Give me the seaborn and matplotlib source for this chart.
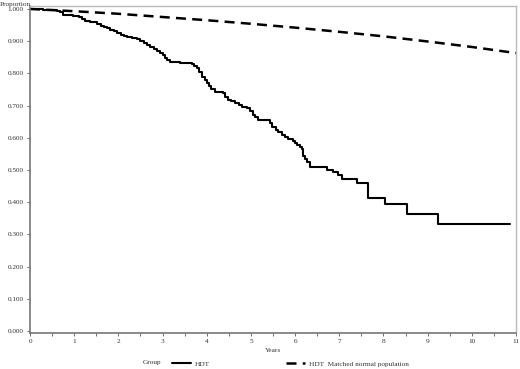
import numpy as np
import pandas as pd
import matplotlib
matplotlib.use('Agg')
import matplotlib.pyplot as plt
import seaborn as sns

# Kaplan-Meier style step curve for the HDT group (years, proportion)
hdt_years = [0.00, 0.30, 0.52, 0.60, 0.68, 0.75, 0.97, 1.10, 1.18, 1.24, 1.35, 1.52,
             1.60, 1.68, 1.74, 1.82, 1.90, 1.97, 2.05, 2.12, 2.19, 2.30, 2.42, 2.50,
             2.58, 2.65, 2.72, 2.80, 2.87, 2.94, 3.00, 3.05, 3.10, 3.17, 3.40, 3.67,
             3.72, 3.78, 3.83, 3.89, 3.95, 4.00, 4.05, 4.10, 4.19, 4.37, 4.42, 4.48,
             4.56, 4.64, 4.72, 4.80, 4.91, 4.98, 5.05, 5.10, 5.16, 5.43, 5.48, 5.56,
             5.62, 5.70, 5.77, 5.84, 5.95, 6.00, 6.04, 6.10, 6.15, 6.18, 6.22, 6.27,
             6.33, 6.72, 6.85, 6.97, 7.06, 7.40, 7.65, 8.03, 8.53, 9.23, 10.86]
hdt_surv = [1.000, 0.998, 0.996, 0.994, 0.990, 0.981, 0.978, 0.975, 0.970, 0.962, 0.958, 0.953,
            0.948, 0.944, 0.940, 0.935, 0.930, 0.925, 0.920, 0.916, 0.913, 0.910, 0.906, 0.900,
            0.894, 0.888, 0.882, 0.876, 0.870, 0.863, 0.856, 0.849, 0.842, 0.834, 0.832, 0.829,
            0.823, 0.817, 0.805, 0.790, 0.780, 0.770, 0.760, 0.752, 0.742, 0.738, 0.728, 0.718,
            0.713, 0.708, 0.702, 0.696, 0.692, 0.682, 0.671, 0.663, 0.655, 0.645, 0.632, 0.624,
            0.618, 0.609, 0.603, 0.596, 0.590, 0.584, 0.578, 0.572, 0.566, 0.545, 0.535, 0.525,
            0.509, 0.500, 0.494, 0.484, 0.472, 0.460, 0.413, 0.394, 0.363, 0.332, 0.332]

# Expected survival of the matched normal population
norm_years = [0, 1, 2, 3, 4, 5, 6, 7, 8, 9, 10, 11]
norm_surv = [1.000, 0.993, 0.985, 0.975, 0.965, 0.954, 0.942, 0.929, 0.915, 0.899, 0.882, 0.863]

hdt = pd.DataFrame({'Years': hdt_years, 'Proportion': hdt_surv})
norm = pd.DataFrame({'Years': norm_years, 'Proportion': norm_surv})

sns.set_style('white')
plt.rcParams['font.family'] = ['Liberation Serif', 'DejaVu Serif']

fig = plt.figure(figsize=(5.2, 3.69), dpi=100)
ax = fig.add_axes([0.0577, 0.0976, 0.9346, 0.886])

sns.lineplot(data=hdt, x='Years', y='Proportion', ax=ax, color='black', lw=1.5,
             drawstyle='steps-post', label='HDT')
sns.lineplot(data=norm, x='Years', y='Proportion', ax=ax, color='black', lw=1.8,
             linestyle=(0, (4, 2.5)), label='HDT  Matched normal population')

ax.set_xlim(0, 11)
ax.set_ylim(-0.006, 1.009)
ax.set_xticks(range(0, 12))
ax.set_xticks(np.arange(0.5, 11, 1), minor=True)
ax.set_yticks(np.arange(0, 1.01, 0.1))
ax.set_yticklabels([f'{v:.3f}' for v in np.arange(0, 1.01, 0.1)])
ax.tick_params(axis='both', which='both', direction='out', length=2.5, width=0.6,
               colors='#555555', labelsize=5.2, pad=2, bottom=True, left=True)
ax.tick_params(axis='x', which='minor', length=2)
for lbl in ax.get_xticklabels() + ax.get_yticklabels():
    lbl.set_color('#333333')

for side in ['left', 'bottom']:
    ax.spines[side].set_color('#777777')
    ax.spines[side].set_linewidth(1.2)
for side in ['top', 'right']:
    ax.spines[side].set_color('#bbbbbb')
    ax.spines[side].set_linewidth(1.0)

ax.set_xlabel('Years', fontsize=5.2, color='#333333', labelpad=3)
ax.set_ylabel('')
fig.text(0.0, 0.995, 'Proportion', fontsize=5.2, color='#333333', ha='left', va='top')

handles, labels = ax.get_legend_handles_labels()
ax.get_legend().remove()
fig.text(0.275, 0.011, 'Group', fontsize=5.2, color='#333333', ha='left', va='bottom')
fig.legend(handles, labels, loc='lower left', bbox_to_anchor=(0.318, -0.012), ncol=2,
           frameon=False, fontsize=5.2, handlelength=2.6, handletextpad=0.6,
           columnspacing=10.5, labelcolor='#333333')

fig.savefig('out.png', dpi=100)
